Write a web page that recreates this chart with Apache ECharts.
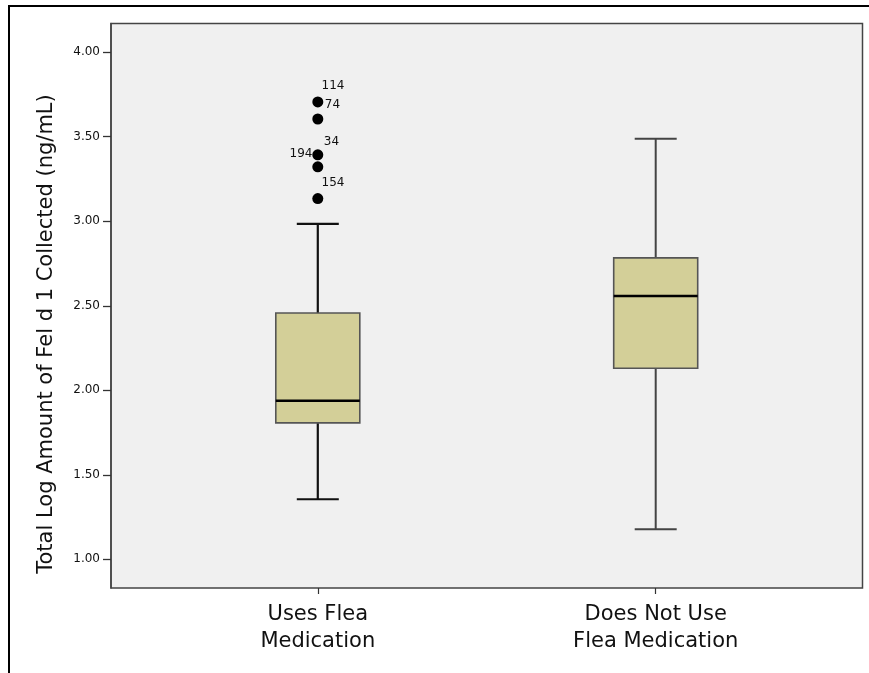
<!DOCTYPE html>
<html>
<head>
<meta charset="utf-8">
<script src="https://cdn.jsdelivr.net/npm/echarts@6/dist/echarts.min.js"></script>
<style>
html,body{margin:0;padding:0;background:#fff;}
#chart{width:869px;height:673px;}
</style>
</head>
<body>
<div id="chart"></div>
<script>
// ---- data ----
const categories = ['Uses Flea\nMedication', 'Does Not Use\nFlea Medication'];
const boxMin    = [1.355, 1.178];
const boxQ1     = [1.807, 2.130];
const boxMedian = [1.938, 2.558];
const boxQ3     = [2.457, 2.783];
const boxMax    = [2.985, 3.488];
const outlierValues = [3.706, 3.605, 3.393, 3.322, 3.134];
const outlierIds    = ['114', '74', '34', '194', '154'];
const yTicks = [1.00, 1.50, 2.00, 2.50, 3.00, 3.50, 4.00];
const yTitle = 'Total Log Amount of Fel d 1 Collected (ng/mL)';

// ---- styles ----
const FONT = 'DejaVu Sans';
const whiskerStyles = [{stroke: '#111', lineWidth: 2.2}, {stroke: '#444', lineWidth: 2}];
const labelPlacement = [
  {position: [9.2, -10.1], align: 'left'},
  {position: [12.5, -8.8], align: 'left'},
  {position: [11.5, -7.8], align: 'left'},
  {position: [0.2, -7.2], align: 'right'},
  {position: [9.2, -9.9], align: 'left'}
];

const boxData = categories.map((c, i) => [i + 1, boxMin[i], boxQ1[i], boxMedian[i], boxQ3[i], boxMax[i]]);
const outlierData = outlierValues.map((v, i) => ({
  value: [1, v],
  label: {
    show: true,
    formatter: outlierIds[i],
    position: labelPlacement[i].position,
    align: labelPlacement[i].align,
    verticalAlign: 'middle',
    fontFamily: FONT,
    fontSize: 12,
    color: '#111'
  }
}));

const chart = echarts.init(document.getElementById('chart'), null, {renderer: 'canvas'});
chart.setOption({
  animation: false,
  backgroundColor: '#fff',
  grid: {
    left: 111, right: 6.5, top: 23.5, bottom: 85,
    show: true, backgroundColor: '#f0f0f0', borderColor: '#444', borderWidth: 1.5
  },
  xAxis: {
    type: 'value',
    min: 0.388, max: 2.612,
    axisLine: {show: false},
    splitLine: {show: false},
    axisTick: {show: true, customValues: [1, 2], length: 6, lineStyle: {color: '#333', width: 1.2}},
    axisLabel: {
      customValues: [1, 2],
      formatter: v => categories[Math.round(v) - 1] || '',
      fontFamily: FONT, fontSize: 21, color: '#111', lineHeight: 27, margin: 13
    }
  },
  yAxis: {
    type: 'value',
    min: 0.83, max: 4.17,
    axisLine: {show: true, lineStyle: {color: '#444', width: 1.5}},
    splitLine: {show: false},
    axisTick: {show: true, customValues: yTicks, length: 8, lineStyle: {color: '#333', width: 1.3}},
    axisLabel: {
      customValues: yTicks,
      formatter: v => Number(v).toFixed(2),
      fontFamily: FONT, fontSize: 12, color: '#111', margin: 11
    }
  },
  graphic: [
    {type: 'rect', shape: {x: 9, y: 6, width: 900, height: 700}, style: {fill: 'none', stroke: '#000', lineWidth: 2}, silent: true},
    {type: 'text', x: 47, y: 334, rotation: Math.PI / 2,
     style: {text: yTitle, font: '21px "DejaVu Sans"', fill: '#111', align: 'center', verticalAlign: 'middle'}}
  ],
  series: [
    {
      type: 'custom',
      data: boxData,
      encode: {x: 0, y: [1, 2, 3, 4, 5]},
      renderItem: function (params, api) {
        const x = api.value(0);
        const p = k => api.coord([x, api.value(k)]);
        const pMin = p(1), pQ1 = p(2), pMed = p(3), pQ3 = p(4), pMax = p(5);
        const cx = pMin[0];
        const halfBox = 42, halfCap = 21;
        const ws = whiskerStyles[params.dataIndex];
        return {
          type: 'group',
          children: [
            {type: 'line', shape: {x1: cx, y1: pMax[1], x2: cx, y2: pQ3[1]}, style: ws},
            {type: 'line', shape: {x1: cx, y1: pQ1[1], x2: cx, y2: pMin[1]}, style: ws},
            {type: 'line', shape: {x1: cx - halfCap, y1: pMax[1], x2: cx + halfCap, y2: pMax[1]}, style: ws},
            {type: 'line', shape: {x1: cx - halfCap, y1: pMin[1], x2: cx + halfCap, y2: pMin[1]}, style: ws},
            {type: 'rect', shape: {x: cx - halfBox, y: pQ3[1], width: 2 * halfBox, height: pQ1[1] - pQ3[1]},
             style: {fill: '#d3cf98', stroke: '#555', lineWidth: 1.6}},
            {type: 'line', shape: {x1: cx - halfBox, y1: pMed[1], x2: cx + halfBox, y2: pMed[1]},
             style: {stroke: '#000', lineWidth: 2.4}}
          ]
        };
      }
    },
    {
      type: 'scatter',
      data: outlierData,
      symbol: 'circle',
      symbolSize: 11,
      itemStyle: {color: '#000', opacity: 1}
    }
  ]
});
</script>
</body>
</html>
